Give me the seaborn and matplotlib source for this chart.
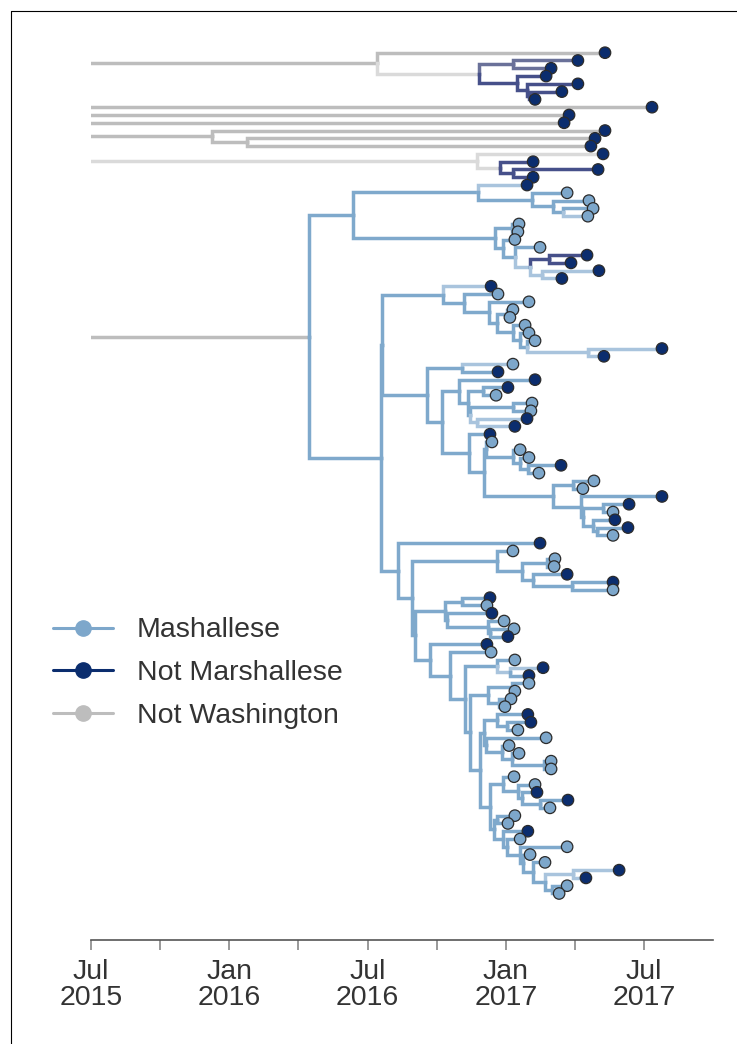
import matplotlib
matplotlib.use("Agg")
import matplotlib.pyplot as plt
from matplotlib.lines import Line2D
import seaborn as sns
import pandas as pd

# ---------------- DATA ----------------
# Tree written as Newick-like strings.
# tip label   = "<tip state>/<branch state>", internal label = "<branch state>"
# number after ':' = node date (decimal year)
# M = Marshallese, N = Not Marshallese, W = Not Washington; lowercase = uncertain state
clade_top = ("(N/W:2017.359,((N/n:2017.261,N/n:2017.164)n:2017.026,(N/N:2017.146,(N/N:2017.261,"
             "(N/N:2017.203,N/N:2017.106)N:2017.084)N:2017.077)N:2017.041)w:2016.903)W:2016.534")
single_tips = ["N/W:2017.529", "N/W:2017.229", "N/W:2017.211"]
clade_mid = "(N/W:2017.359,(N/W:2017.323,N/W:2017.308)W:2016.064)W:2015.938"
clade_low = "(N/w:2017.352,(N/N:2017.099,(N/N:2017.334,N/N:2017.099)N:2017.026)w:2016.979)w:2016.896"

sub_a = ("((N/m:2017.077,(M/M:2017.222,(M/M:2017.301,(M/M:2017.316,M/m:2017.297)M:2017.207)M:2017.171)M:2017.095)M:2016.900,"
         "((M/M:2017.048,M/M:2017.044)M:2017.023,(M/M:2017.033,(M/M:2017.124,((N/N:2017.294,N/N:2017.236)N:2017.156,"
         "(N/m:2017.337,N/m:2017.203)m:2017.131)m:2017.088)M:2017.033)M:2016.990)M:2016.961)M:2016.448")
sub_b = ("(N/m:2016.947,(M/M:2016.972,(M/M:2017.084,((M/M:2017.026,M/M:2017.015)M:2017.005,(M/M:2017.070,"
         "(M/M:2017.084,(M/M:2017.106,(N/m:2017.565,N/m:2017.355)m:2017.297)M:2017.077)M:2017.052)M:2017.026)"
         "M:2016.968)M:2016.939)M:2016.849)M:2016.773")
sub_c1 = "(M/m:2017.026,N/M:2016.972)M:2016.842"
sub_c2 = ("(N/M:2017.106,((N/M:2017.008,M/M:2016.965)M:2016.918,((M/M:2017.095,M/M:2017.091)M:2017.026,"
          "(N/m:2017.077,N/m:2017.033)m:2016.896)M:2016.871)M:2016.863)M:2016.831")
sub_c3 = "(M/M:2016.950,(M/M:2017.052,(M/M:2017.084,(N/M:2017.200,M/M:2017.120)M:2017.080)M:2017.052)M:2017.026)M:2016.929"
sub_c4 = ("((M/M:2017.319,M/M:2017.279)M:2017.243,(N/M:2017.565,((N/M:2017.446,M/M:2017.388)M:2017.352,"
          "(N/M:2017.395,(N/M:2017.442,M/M:2017.388)M:2017.330)M:2017.316)M:2017.279)M:2017.272)M:2017.171")
sub_d1 = ("(M/M:2017.026,((M/M:2017.178,M/M:2017.175)M:2017.149,(N/M:2017.222,(N/M:2017.388,M/M:2017.388)"
          "M:2017.240)M:2017.099)M:2017.059)M:2016.968")
sub_d2 = ("((N/M:2016.943,M/M:2016.932)M:2016.842,(N/M:2016.950,(M/M:2016.994,(M/M:2017.030,N/M:2017.008)"
          "M:2016.943)M:2016.936)M:2016.788)M:2016.780")
sub_d3 = "(M/M:2017.033,(N/m:2017.135,N/M:2017.084)m:2017.015)M:2016.968"
sub_d4 = "((M/M:2017.084,M/M:2017.033)M:2017.023,(M/M:2017.019,M/M:2016.997)M:2016.976)M:2016.936"
sub_d5 = ("((N/M:2017.080,(N/M:2017.091,M/M:2017.044)M:2017.005)M:2016.968,(M/M:2017.146,(M/M:2017.012,"
          "(M/M:2017.048,(M/M:2017.164,M/M:2017.164)M:2017.138)M:2017.023)M:2016.986)M:2016.929)M:2016.921")
sub_d6 = "(M/M:2017.030,(M/M:2017.106,(N/M:2017.113,(N/M:2017.225,M/M:2017.160)M:2017.124)M:2017.059)M:2017.044)M:2016.990"
sub_d7 = ("((M/M:2017.033,M/M:2017.008)M:2016.968,(N/M:2017.080,(M/M:2017.052,(M/M:2017.222,(M/M:2017.088,"
          "(M/M:2017.142,((N/m:2017.410,N/m:2017.290)m:2017.243,(M/M:2017.222,M/M:2017.193)M:2017.167)M:2017.142)"
          "M:2017.099)M:2017.062)M:2017.052)M:2017.005)M:2016.990)M:2016.958")

legend_states = ["M", "N", "W"]
legend_labels = ["Mashallese", "Not Marshallese", "Not Washington"]
tick_dates = [2015.5, 2016.0, 2016.5, 2017.0, 2017.5]
tick_labels = ["Jul\n2015", "Jan\n2016", "Jul\n2016", "Jan\n2017", "Jul\n2017"]
minor_dates = [2015.75, 2016.25, 2016.75, 2017.25]
root_date = 2014.9

# ---------------- assemble tree ----------------
c_b = "(" + sub_c1 + ",(" + sub_c2 + ",(N/M:2016.943,(" + sub_c3 + "," + sub_c4 + ")M:2016.921)M:2016.867)M:2016.769)M:2016.715"
k = "(" + sub_d5 + ",(" + sub_d6 + "," + sub_d7 + ")M:2016.943)M:2016.907"
h = "(M/M:2016.947,(" + sub_d3 + ",(" + sub_d4 + "," + k + ")M:2016.871)M:2016.853)M:2016.798"
c_c = "(N/M:2017.124,(" + sub_d1 + ",(" + sub_d2 + ",(N/M:2016.932," + h + ")M:2016.726)M:2016.672)M:2016.661)M:2016.610"
blue = "(" + sub_a + ",((" + sub_b + "," + c_b + ")M:2016.552," + c_c + ")M:2016.549)W:2016.288"
newick = "(" + ",".join([clade_top] + single_tips + [clade_mid, clade_low, blue]) + ")W:%.3f" % root_date


def parse(s):
    pos = 0

    def node():
        nonlocal pos
        children = []
        if s[pos] == "(":
            pos += 1
            children.append(node())
            while s[pos] == ",":
                pos += 1
                children.append(node())
            pos += 1
        start = pos
        while s[pos] != ":":
            pos += 1
        label = s[start:pos]
        pos += 1
        start = pos
        while pos < len(s) and s[pos] not in ",()":
            pos += 1
        return {"label": label, "date": float(s[start:pos]), "children": children}

    return node()


root = parse(newick)
tips = []


def layout(n):
    if not n["children"]:
        n["y"] = float(len(tips))
        tips.append(n)
    else:
        for c in n["children"]:
            layout(c)
        n["y"] = (n["children"][0]["y"] + n["children"][-1]["y"]) / 2.0


layout(root)

# ---------------- styling ----------------
branch_colors = {"M": "#7FA9CC", "m": "#A9C4DD", "N": "#46508A", "n": "#6A7199",
                 "W": "#BDBDBD", "w": "#DADADA"}
tip_colors = {"M": "#7DA7CB", "N": "#0B2D6E", "W": "#BDBDBD"}
text_color = "#333333"

sns.set_theme(style="white")
plt.rcParams["font.family"] = ["Liberation Sans", "DejaVu Sans"]

fig = plt.figure(figsize=(7.37, 10.44), dpi=100)
ax = fig.add_axes([91 / 737, 104 / 1044, 622 / 737, 920 / 1044])


def draw(n):
    for c in n["children"]:
        st = c["label"].split("/")[-1]
        ax.plot([n["date"], n["date"], c["date"]], [n["y"], c["y"], c["y"]],
                color=branch_colors[st], lw=2.5, solid_capstyle="projecting",
                solid_joinstyle="miter", zorder=2)
        draw(c)


draw(root)

df = pd.DataFrame({
    "date": [t["date"] for t in tips],
    "y": [t["y"] for t in tips],
    "state": [t["label"].split("/")[0] for t in tips],
})
sns.scatterplot(data=df, x="date", y="y", hue="state", palette=tip_colors, s=68,
                edgecolor="#2b2b2b", linewidth=0.9, legend=False, zorder=3, ax=ax)

px_per_tip = 7.785
ax.set_ylim(len(tips) - 1 + (940 - 893.5) / px_per_tip, -(52.7 - 20) / px_per_tip)
ax.set_xlim(2015.5, 2015.5 + 622 / 276.5)
ax.set_xlabel("")
ax.set_ylabel("")
ax.set_yticks([])
ax.set_xticks(tick_dates)
ax.set_xticklabels(tick_labels)
ax.set_xticks(minor_dates, minor=True)
for lab in ax.get_xticklabels():
    lab.set_linespacing(1.0)
for side in ["left", "right", "top"]:
    ax.spines[side].set_visible(False)
ax.spines["bottom"].set_color("#555555")
ax.spines["bottom"].set_linewidth(1.2)
ax.tick_params(axis="x", which="both", direction="out", length=7, width=1.2,
               color="#888888", labelsize=20.5, labelcolor=text_color, pad=7, bottom=True)
ax.patch.set_alpha(0)

handles = [Line2D([0], [0], color=tip_colors[s], lw=2.2, marker="o", markersize=11,
                  markerfacecolor=tip_colors[s], markeredgecolor=tip_colors[s])
           for s in legend_states]
fig.legend(handles, legend_labels, loc="center left", bbox_to_anchor=(53 / 737, (1044 - 673) / 1044),
           frameon=False, fontsize=20.5, labelcolor=text_color, handlelength=2.1,
           handletextpad=0.85, labelspacing=0.58, borderpad=0, borderaxespad=0)

# frame lines at the top and left of the figure
fig.add_artist(Line2D([10.5 / 737, 10.5 / 737], [0, 1 - 10.5 / 1044], color="black", lw=0.8))
fig.add_artist(Line2D([10.5 / 737, 1], [1 - 10.5 / 1044, 1 - 10.5 / 1044], color="black", lw=0.8))

fig.savefig("out.png", dpi=100)
